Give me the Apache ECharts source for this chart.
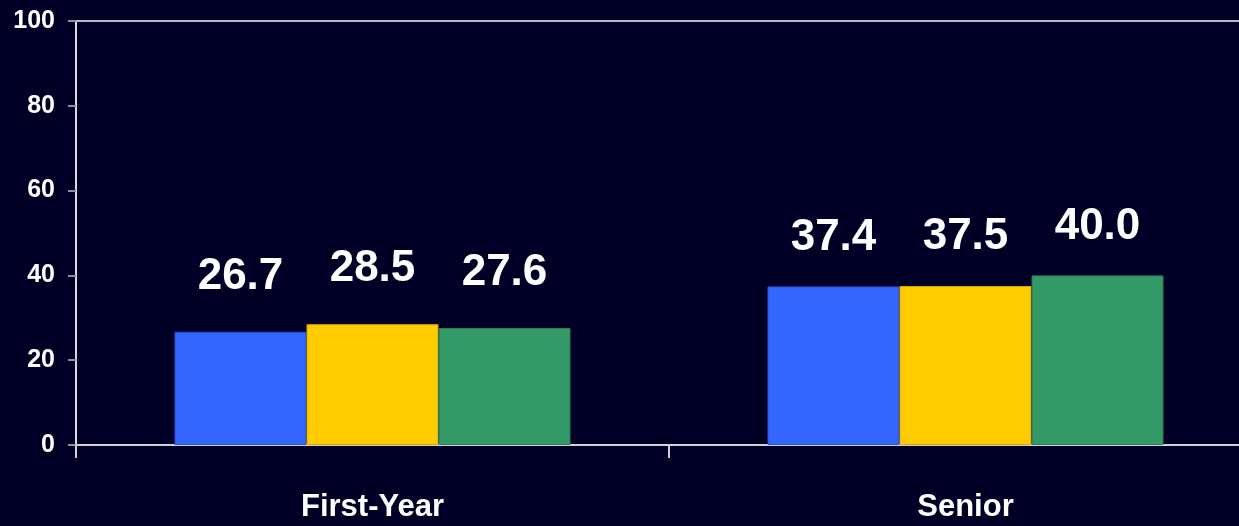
<!DOCTYPE html>
<html>
<head>
<meta charset="utf-8">
<script src="https://cdn.jsdelivr.net/npm/echarts@6/dist/echarts.min.js"></script>
<style>
  html, body { margin: 0; padding: 0; background: #000026; }
  #main { width: 1239px; height: 526px; }
</style>
</head>
<body>
<div id="main"></div>
<script>
// data
var categories = ['First-Year', 'Senior'];
var blueValues = [26.7, 37.4];
var yellowValues = [28.5, 37.5];
var greenValues = [27.6, 40.0];
var yTicks = [0, 20, 40, 60, 80, 100];

var numFont = '"Liberation Sans Narrow", "Arial Narrow", "Liberation Sans", Arial, sans-serif';

function makeBar(values, color, border) {
  return {
    type: 'bar',
    // labels sit a bit higher over the first group
    data: values.map(function (v, i) {
      return { value: v, label: { distance: i === 0 ? 33 : 27 } };
    }),
    barWidth: 132,
    barGap: '0%',
    itemStyle: { color: color, borderColor: border, borderWidth: 1 },
    label: {
      show: true,
      position: 'top',
      color: '#ffffff',
      fontSize: 44,
      fontWeight: 'bold',
      fontFamily: numFont,
      formatter: function (p) { return p.value.toFixed(1); }
    }
  };
}

var chart = echarts.init(document.getElementById('main'));
chart.setOption({
  backgroundColor: '#000026',
  animation: false,
  grid: { left: 76, top: 21, width: 1186, bottom: 81, containLabel: false, outerBoundsMode: 'none' },
  xAxis: [{
    type: 'category',
    data: categories,
    axisLine: { lineStyle: { color: '#d0d0d8', width: 2 } },
    axisTick: { show: true, length: 13, lineStyle: { color: '#d0d0d8', width: 2 } },
    axisLabel: {
      color: '#ffffff',
      fontSize: 31,
      fontWeight: 'bold',
      fontFamily: '"Liberation Sans", Arial, sans-serif',
      margin: 47
    }
  }, {
    type: 'category',
    position: 'top',
    data: categories,
    axisLine: { lineStyle: { color: '#b8b8c4', width: 2 } },
    axisTick: { show: false },
    axisLabel: { show: false }
  }],
  yAxis: {
    type: 'value',
    min: yTicks[0],
    max: yTicks[yTicks.length - 1],
    interval: 20,
    axisLine: { show: true, lineStyle: { color: '#d8d8e0', width: 2 } },
    axisTick: { show: true, length: 8, lineStyle: { color: '#9090a0', width: 2 } },
    splitLine: { show: false },
    axisLabel: {
      color: '#ffffff',
      fontSize: 25,
      fontWeight: 'bold',
      fontFamily: numFont,
      margin: 21
    }
  },
  series: [
    makeBar(blueValues, '#3366ff', '#2a52cc'),
    makeBar(yellowValues, '#ffcc00', '#d4a800'),
    makeBar(greenValues, '#339966', '#2a7d54')
  ]
});
</script>
</body>
</html>
